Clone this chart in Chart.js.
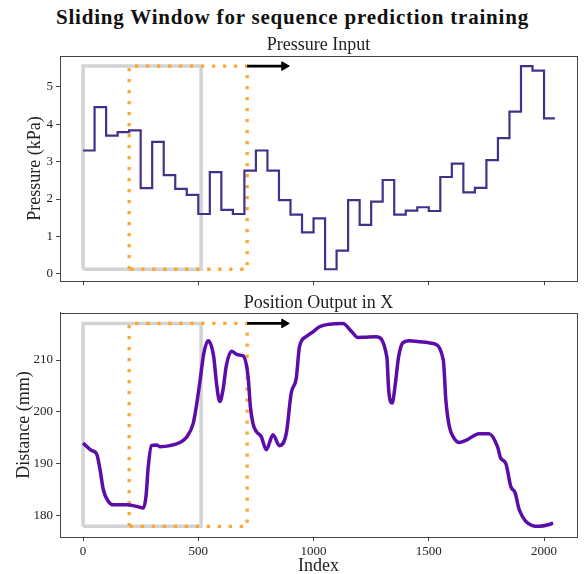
<!DOCTYPE html>
<html>
<head>
<meta charset="utf-8">
<script src="https://cdn.jsdelivr.net/npm/chart.js@4.4.1/dist/chart.umd.min.js"></script>
<style>
  html, body { margin: 0; padding: 0; background: #ffffff; }
  #wrap { position: relative; width: 585px; height: 574px; overflow: hidden; background: #fff; }
  #suptitle { position: absolute; left: 0; top: 6px; width: 585px; text-align: center;
    font-family: "Liberation Serif", serif; font-weight: bold; font-size: 21px; letter-spacing: 0.8px; line-height: 22px; color: #111; }
  canvas { position: absolute; left: 0; }
  #c1 { top: 30px; }
  #c2 { top: 290px; }
</style>
</head>
<body>
<div id="wrap">
  <div id="suptitle">Sliding Window for sequence prediction training</div>
  <canvas id="c1" width="585" height="262"></canvas>
  <canvas id="c2" width="585" height="284"></canvas>
</div>
<script>
// ---------- data ----------
const pressureStepStart = [0,50,100,150,200,250,300,350,400,450,500,550,600,650,700,750,800,850,900,950,
  1000,1050,1100,1150,1200,1250,1300,1350,1400,1450,1500,1550,1600,1650,1700,1750,1800,1850,1900,1950,2000];
const pressureValues = [3.30,4.46,3.70,3.79,3.84,2.29,3.53,2.64,2.27,2.11,1.60,2.72,1.71,1.60,2.76,3.30,2.76,1.97,1.58,1.11,
  1.48,0.12,0.62,1.97,1.31,1.93,2.51,1.58,1.69,1.78,1.68,2.59,2.95,2.18,2.30,3.04,3.63,4.34,5.56,5.44,4.16];
const lastIndex = 2047;

const positionIndex = [0,37,59,74,88,110,131,189,232,262,273,283,297,319,333,377,420,449,478,489,506,524,543,567,579,593,607,622,644,
  672,694,716,726,737,752,773,795,824,852,882,903,925,939,968,997,1026,1069,1127,1167,1192,1221,1271,1318,1326,1341,1355,1369,1387,
  1416,1459,1517,1563,1574,1589,1610,1632,1661,1719,1762,1798,1812,1834,1856,1874,1892,1921,1949,1978,2022,2039,2047];
const positionValues = [193.98,192.56,191.9,188.8,185.0,182.75,182.1,182.1,181.8,181.5,183.7,189.5,193.5,193.65,193.3,193.5,194.1,195.1,197.8,200.4,205.5,211.3,213.7,
  210.6,205.5,202.0,204.2,209.0,211.7,211.0,210.8,206.8,201.0,197.8,196.2,195.25,192.7,195.6,193.5,195.9,203.6,206.5,212.6,214.5,215.4,216.4,216.9,217.05,215.4,214.35,214.4,214.5,210.6,204.2,201.7,205.5,210.6,
  213.3,213.7,213.5,213.2,210.0,202.3,197.2,194.9,194.1,194.5,195.8,195.8,193.3,191.1,190.1,185.6,184.5,181.2,178.9,178.1,177.95,178.3,178.6];

const windowStarts = [0, 200];
const windowLength = 512;
const arrowFrom = 712;
const arrowTo = 873;

const xTicks = [0, 500, 1000, 1500, 2000];
const pressureTicks = [0, 1, 2, 3, 4, 5];
const positionTicks = [180, 190, 200, 210];

// ---------- styling ----------
const FONT = '"Liberation Serif", "Times New Roman", serif';
const TXT = '#222';
const AX = '#444';

function windowRect(x0, x1, lo, hi) {
  return [{x:x0,y:lo},{x:x0,y:hi},{x:x1,y:hi},{x:x1,y:lo},{x:x0,y:lo}];
}

function overlayDatasets(lo, hi) {
  return [
    { data: windowRect(windowStarts[0], windowStarts[0]+windowLength, lo, hi), borderColor: '#d3d3d3', borderWidth: 3.5,
      pointRadius: 0, tension: 0, fill: false, order: 5, borderJoinStyle: 'miter' },
    { data: windowRect(windowStarts[1], windowStarts[1]+windowLength, lo, hi), borderColor: '#ffa630', borderWidth: 3.3,
      borderDash: [3.3, 7.7], borderCapStyle: 'butt', pointRadius: 0, tension: 0, fill: false, order: 4 },
    { data: [{x:arrowFrom,y:hi},{x:arrowTo,y:hi}], borderColor: '#000', borderWidth: 2.7, tension: 0,
      pointRadius: [0, 5], pointStyle: 'triangle', rotation: 90, pointBackgroundColor: '#000', pointBorderColor: '#000',
      pointBorderWidth: 1, fill: false, order: 3 }
  ];
}

const boxPlugin = {
  id: 'box',
  afterDraw(chart) {
    const a = chart.chartArea, ctx = chart.ctx;
    ctx.save();
    ctx.strokeStyle = AX; ctx.lineWidth = 1;
    ctx.strokeRect(Math.round(a.left)+0.5, Math.round(a.top)+0.5, Math.round(a.right-a.left), Math.round(a.bottom-a.top));
    ctx.restore();
  }
};

function xScale(showLabels, title) {
  return {
    type: 'linear', min: -100, max: 2143,
    afterBuildTicks: s => { s.ticks = xTicks.map(v => ({value: v})); },
    afterFit: s => { s.height = showLabels ? 37 : 9; },
    ticks: { display: showLabels, font: {family: FONT, size: 13}, color: TXT, padding: 3, maxRotation: 0,
      callback: v => String(v) },
    grid: { drawOnChartArea: false, drawTicks: true, tickLength: 4, color: AX },
    border: { display: true, color: AX },
    title: title ? { display: true, text: title, font: {family: FONT, size: 18, lineHeight: 1.0}, color: TXT, padding: {top: 0, bottom: -1} } : {display: false}
  };
}

function yScale(min, max, ticks, title, titlePad) {
  return {
    type: 'linear', min: min, max: max,
    afterBuildTicks: s => { s.ticks = ticks.map(v => ({value: v})); },
    afterFit: s => { s.width = 60; },
    ticks: { font: {family: FONT, size: 13}, color: TXT, padding: 3, callback: v => String(v) },
    grid: { drawOnChartArea: false, drawTicks: true, tickLength: 4, color: AX },
    border: { display: true, color: AX },
    title: { display: true, text: title, font: {family: FONT, size: 18}, color: TXT, padding: {top: titlePad, bottom: 0} }
  };
}

const pLo = Math.min(...pressureValues), pHi = Math.max(...pressureValues);
const pressurePoints = pressureStepStart.map((x, i) => ({x: x, y: pressureValues[i]}));
pressurePoints.push({x: lastIndex, y: pressureValues[pressureValues.length-1]});

new Chart(document.getElementById('c1'), {
  type: 'line',
  data: { datasets: [
    { data: pressurePoints, borderColor: '#43308a', borderWidth: 2.2, stepped: true, pointRadius: 0, fill: false, order: 1 },
    ...overlayDatasets(pLo, pHi)
  ]},
  options: {
    responsive: false, animation: false, devicePixelRatio: 1,
    layout: { padding: {left: 0, right: 8, top: 0, bottom: 0} },
    plugins: {
      legend: {display: false}, tooltip: {enabled: false},
      title: { display: true, fullSize: false, text: 'Pressure Input', font: {family: FONT, size: 18, weight: 'normal'}, color: TXT, padding: {top: 4, bottom: 0.4} }
    },
    scales: { x: xScale(false, null), y: yScale(-0.2, 5.83, pressureTicks, 'Pressure (kPa)', 24) }
  },
  plugins: [boxPlugin]
});

const qLo = Math.min(...positionValues), qHi = Math.max(...positionValues);
const positionPoints = positionIndex.map((x, i) => ({x: x, y: positionValues[i]}));

new Chart(document.getElementById('c2'), {
  type: 'line',
  data: { datasets: [
    { data: positionPoints, borderColor: '#5b0ca9', borderWidth: 3.5, cubicInterpolationMode: 'monotone', pointRadius: 0, fill: false, order: 1 },
    ...overlayDatasets(qLo, qHi)
  ]},
  options: {
    responsive: false, animation: false, devicePixelRatio: 1,
    layout: { padding: {left: 0, right: 8, top: 0, bottom: 0} },
    plugins: {
      legend: {display: false}, tooltip: {enabled: false},
      title: { display: true, fullSize: false, text: 'Position Output in X', font: {family: FONT, size: 18, weight: 'normal'}, color: TXT, padding: {top: 2, bottom: -0.6} }
    },
    scales: { x: xScale(true, 'Index'), y: yScale(175.9, 219.06, positionTicks, 'Distance (mm)', 13) }
  },
  plugins: [boxPlugin]
});
</script>
</body>
</html>
